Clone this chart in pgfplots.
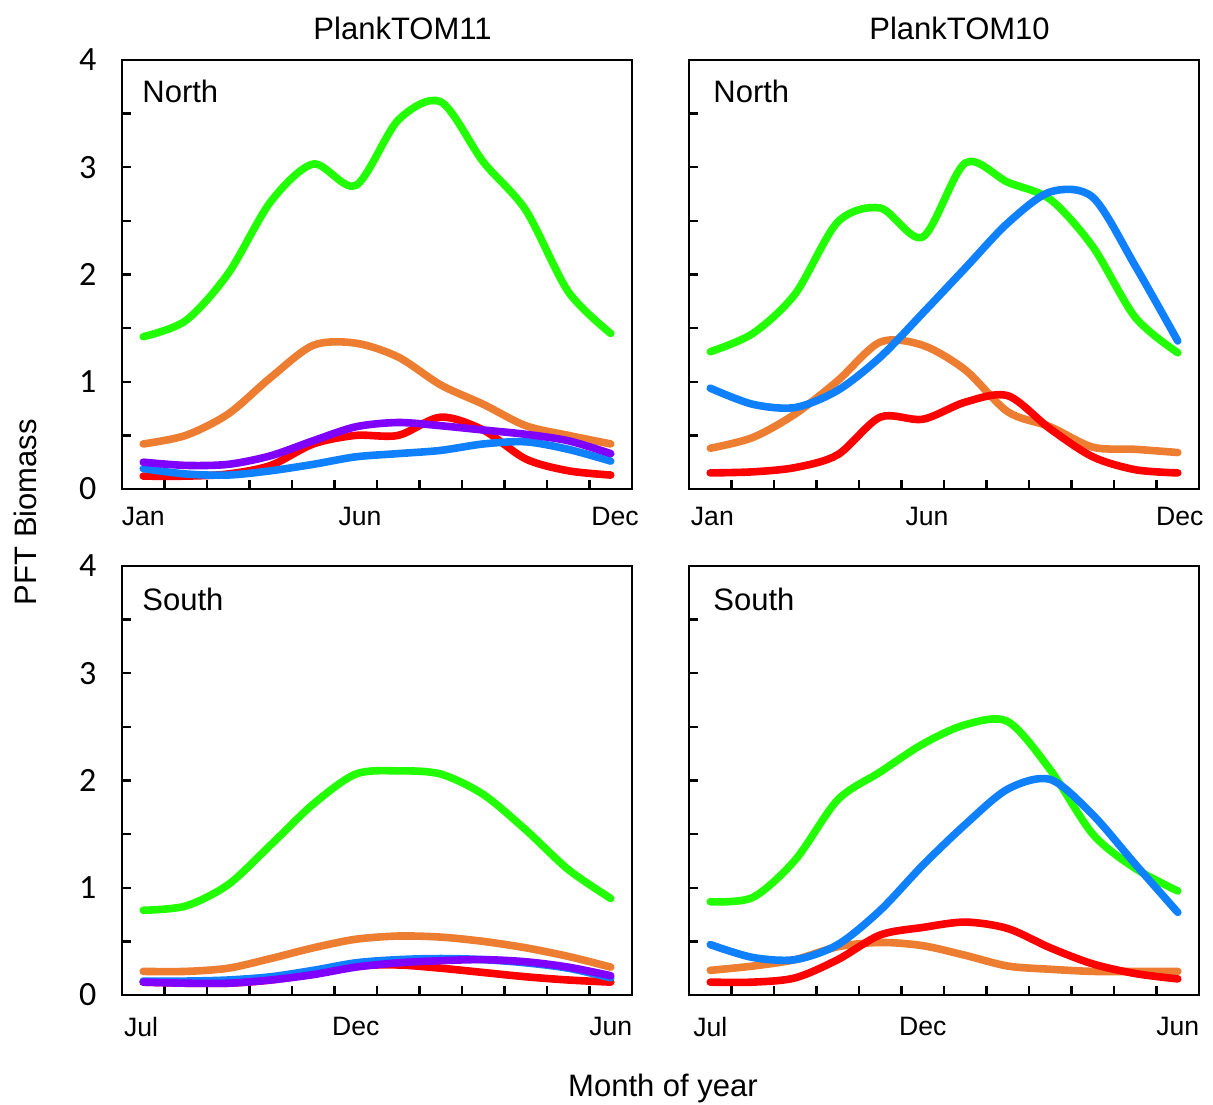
\documentclass[border=0pt]{standalone}
\usepackage{fontspec}
\setmainfont{Liberation Sans}
\newfontfamily\calibri{Carlito}
\usepackage{pgfplots}
\pgfplotsset{compat=1.18}
\definecolor{cgreen}{HTML}{22FF00}
\definecolor{corange}{HTML}{ED7D31}
\definecolor{cred}{HTML}{FF0000}
\definecolor{cblue}{HTML}{0F80FF}
\definecolor{cpurple}{HTML}{8000FF}
\newcommand\fs{\fontsize{15.5}{18}\selectfont}
\pgfplotsset{
 panel/.style={
  scale only axis, width=255pt, height=214.5pt,
  xmin=0.5, xmax=12.5, ymin=0, ymax=4,
  axis line style={line width=1.2pt},
  ytick={0,1,2,3,4}, minor ytick={0.5,1.5,2.5,3.5},
  xtick={1.5,2.5,...,11.5}, xticklabels={},
  tick align=inside, xtick pos=bottom, ytick pos=left,
  major tick length=4.5pt, minor tick length=4.5pt,
  tick style={line width=1.2pt, black},
  extra x ticks={1,6,12},
  extra x tick style={major tick length=0pt},
  xticklabel style={font=\fontsize{13.3}{13.3}\selectfont, yshift=-5.7pt},
  /pgf/number format/assume math mode=true,
  yticklabel style={font=\calibri\fontsize{17}{17}\selectfont, xshift=-9.3pt},
  every axis plot/.append style={line width=3.8pt, smooth, line cap=round, line join=round},
 },
 noylab/.style={yticklabels={}},
 lowlab/.style={xticklabel style={yshift=-2pt}},
}
\begin{document}
\begin{tikzpicture}
\path[use as bounding box] (0,0) rectangle (606.5pt,552pt);
% Top-left: PlankTOM11 North
\begin{axis}[panel, at={(61pt,307.5pt)}, anchor=south west, extra x ticks={1,6.1,12.1}, extra x tick labels={Jan,Jun,Dec}]
\addplot[cgreen] coordinates {(1,1.42)(2,1.57)(3,2.01)(4,2.68)(5,3.03)(6,2.83)(7,3.44)(8,3.61)(9,3.05)(10,2.60)(11,1.84)(12,1.45)};
\addplot[corange] coordinates {(1,0.42)(2,0.50)(3,0.70)(4,1.04)(5,1.34)(6,1.36)(7,1.23)(8,0.97)(9,0.79)(10,0.59)(11,0.50)(12,0.42)};
\addplot[cred] coordinates {(1,0.12)(2,0.12)(3,0.14)(4,0.22)(5,0.42)(6,0.50)(7,0.50)(8,0.67)(9,0.55)(10,0.28)(11,0.17)(12,0.13)};
\addplot[cblue] coordinates {(1,0.19)(2,0.14)(3,0.13)(4,0.17)(5,0.23)(6,0.30)(7,0.33)(8,0.36)(9,0.42)(10,0.44)(11,0.37)(12,0.26)};
\addplot[cpurple] coordinates {(1,0.25)(2,0.22)(3,0.23)(4,0.31)(5,0.45)(6,0.58)(7,0.62)(8,0.59)(9,0.55)(10,0.51)(11,0.45)(12,0.33)};
\end{axis}
% Top-right: PlankTOM10 North
\begin{axis}[panel, noylab, at={(344.5pt,307.5pt)}, anchor=south west, extra x ticks={1.05,6.1,12.05}, extra x tick labels={Jan,Jun,Dec}]
\addplot[cgreen] coordinates {(1,1.28)(2,1.45)(3,1.82)(4,2.49)(5,2.62)(6,2.35)(7,3.04)(8,2.86)(9,2.70)(10,2.26)(11,1.60)(12,1.27)};
\addplot[corange] coordinates {(1,0.38)(2,0.48)(3,0.70)(4,1.01)(5,1.37)(6,1.34)(7,1.11)(8,0.72)(9,0.58)(10,0.39)(11,0.37)(12,0.34)};
\addplot[cred] coordinates {(1,0.15)(2,0.16)(3,0.20)(4,0.32)(5,0.67)(6,0.65)(7,0.81)(8,0.87)(9,0.56)(10,0.30)(11,0.18)(12,0.15)};
\addplot[cblue] coordinates {(1,0.94)(2,0.79)(3,0.76)(4,0.92)(5,1.23)(6,1.64)(7,2.06)(8,2.48)(9,2.77)(10,2.72)(11,2.08)(12,1.38)};
\end{axis}
% Bottom-left: PlankTOM11 South
\begin{axis}[panel, lowlab, at={(61pt,54.5pt)}, anchor=south west, extra x ticks={0.95,6,12}, extra x tick labels={Jul,Dec,Jun}]
\addplot[cgreen] coordinates {(1,0.79)(2,0.83)(3,1.03)(4,1.40)(5,1.78)(6,2.06)(7,2.09)(8,2.06)(9,1.87)(10,1.54)(11,1.17)(12,0.90)};
\addplot[corange] coordinates {(1,0.22)(2,0.22)(3,0.25)(4,0.34)(5,0.44)(6,0.52)(7,0.55)(8,0.54)(9,0.50)(10,0.44)(11,0.36)(12,0.26)};
\addplot[cred] coordinates {(1,0.12)(2,0.11)(3,0.11)(4,0.14)(5,0.20)(6,0.27)(7,0.28)(8,0.25)(9,0.21)(10,0.17)(11,0.14)(12,0.12)};
\addplot[cblue] coordinates {(1,0.13)(2,0.13)(3,0.14)(4,0.17)(5,0.23)(6,0.30)(7,0.33)(8,0.34)(9,0.33)(10,0.30)(11,0.25)(12,0.16)};
\addplot[cpurple] coordinates {(1,0.12)(2,0.11)(3,0.11)(4,0.14)(5,0.19)(6,0.26)(7,0.30)(8,0.32)(9,0.33)(10,0.31)(11,0.26)(12,0.18)};
\end{axis}
% Bottom-right: PlankTOM10 South
\begin{axis}[panel, noylab, lowlab, at={(344.5pt,54.5pt)}, anchor=south west, extra x tick labels={Jul,Dec,Jun}]
\addplot[cgreen] coordinates {(1,0.87)(2,0.91)(3,1.26)(4,1.82)(5,2.08)(6,2.34)(7,2.52)(8,2.55)(9,2.10)(10,1.50)(11,1.18)(12,0.97)};
\addplot[corange] coordinates {(1,0.23)(2,0.27)(3,0.33)(4,0.45)(5,0.49)(6,0.46)(7,0.37)(8,0.27)(9,0.24)(10,0.22)(11,0.22)(12,0.22)};
\addplot[cred] coordinates {(1,0.12)(2,0.12)(3,0.16)(4,0.33)(5,0.56)(6,0.63)(7,0.68)(8,0.62)(9,0.44)(10,0.29)(11,0.20)(12,0.15)};
\addplot[cblue] coordinates {(1,0.47)(2,0.35)(3,0.33)(4,0.47)(5,0.79)(6,1.21)(7,1.59)(8,1.92)(9,2.01)(10,1.68)(11,1.22)(12,0.77)};
\end{axis}
\node[anchor=base, font=\fs, inner sep=0pt] at (201.25pt,532pt) {PlankTOM11};
\node[anchor=base, font=\fs, inner sep=0pt] at (479.75pt,532pt) {PlankTOM10};
\node[anchor=base west, font=\fs, inner sep=0pt] at (71pt,500.5pt) {North};
\node[anchor=base west, font=\fs, inner sep=0pt] at (356.5pt,500.5pt) {North};
\node[anchor=base west, font=\fs, inner sep=0pt] at (71pt,247pt) {South};
\node[anchor=base west, font=\fs, inner sep=0pt] at (356.5pt,247pt) {South};
\node[rotate=90, font=\fs, inner sep=0pt] at (12.5pt,296pt) {PFT Biomass};
\node[anchor=base, font=\fs, inner sep=0pt] at (331.5pt,4pt) {Month of year};
\end{tikzpicture}
\end{document}
